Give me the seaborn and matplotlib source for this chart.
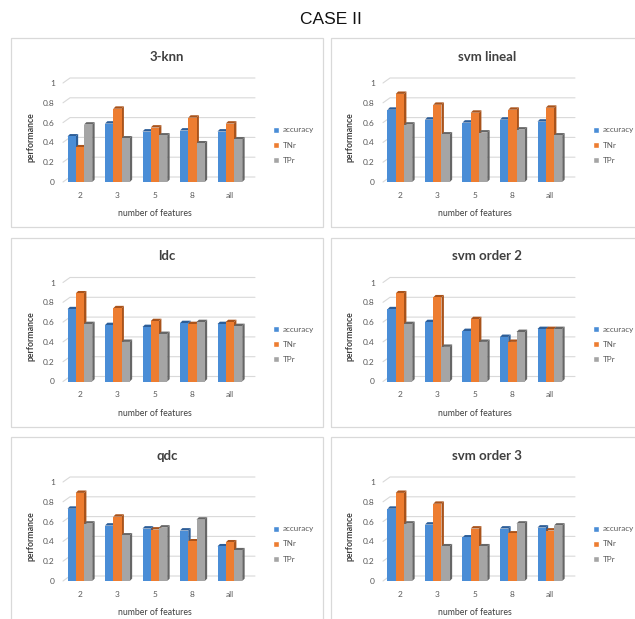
import numpy as np
import pandas as pd
import matplotlib
matplotlib.use("Agg")
import matplotlib.pyplot as plt
from matplotlib.patches import Rectangle, Polygon
import seaborn as sns

# ---- data -------------------------------------------------------------
features = ["2", "3", "5", "8", "all"]
metrics = ["accuracy", "TNr", "TPr"]
classifiers = ["3-knn", "svm lineal", "ldc", "svm order 2", "qdc", "svm order 3"]

knn_accuracy = [0.46, 0.59, 0.51, 0.52, 0.51]
knn_tnr = [0.35, 0.74, 0.55, 0.65, 0.59]
knn_tpr = [0.58, 0.44, 0.47, 0.39, 0.43]

svml_accuracy = [0.73, 0.63, 0.60, 0.63, 0.61]
svml_tnr = [0.89, 0.78, 0.70, 0.73, 0.75]
svml_tpr = [0.58, 0.48, 0.50, 0.53, 0.47]

ldc_accuracy = [0.73, 0.57, 0.55, 0.59, 0.58]
ldc_tnr = [0.89, 0.74, 0.61, 0.58, 0.60]
ldc_tpr = [0.58, 0.40, 0.48, 0.60, 0.56]

svm2_accuracy = [0.73, 0.60, 0.51, 0.45, 0.53]
svm2_tnr = [0.89, 0.85, 0.63, 0.40, 0.53]
svm2_tpr = [0.58, 0.35, 0.40, 0.50, 0.53]

qdc_accuracy = [0.73, 0.56, 0.53, 0.51, 0.35]
qdc_tnr = [0.89, 0.65, 0.52, 0.40, 0.39]
qdc_tpr = [0.58, 0.46, 0.54, 0.62, 0.31]

svm3_accuracy = [0.73, 0.57, 0.44, 0.53, 0.54]
svm3_tnr = [0.89, 0.78, 0.53, 0.48, 0.51]
svm3_tpr = [0.58, 0.35, 0.35, 0.58, 0.56]

y_ticks = [0, 0.2, 0.4, 0.6, 0.8, 1]
y_tick_labels = ["0", "0.2", "0.4", "0.6", "0.8", "1"]

results = {
    "3-knn": (knn_accuracy, knn_tnr, knn_tpr),
    "svm lineal": (svml_accuracy, svml_tnr, svml_tpr),
    "ldc": (ldc_accuracy, ldc_tnr, ldc_tpr),
    "svm order 2": (svm2_accuracy, svm2_tnr, svm2_tpr),
    "qdc": (qdc_accuracy, qdc_tnr, qdc_tpr),
    "svm order 3": (svm3_accuracy, svm3_tnr, svm3_tpr),
}

rows = []
for clf, series in results.items():
    for metric, vals in zip(metrics, series):
        for feat, v in zip(features, vals):
            rows.append({"classifier": clf, "metric": metric,
                         "features": feat, "value": v})
df = pd.DataFrame(rows)

# ---- style ------------------------------------------------------------
sns.set_theme(style="white")
plt.rcParams["font.family"] = ["Lato", "DejaVu Sans"]

front = {"accuracy": "#4A8DD6", "TNr": "#ED7D31", "TPr": "#A5A5A5"}
side = {"accuracy": "#2D5E98", "TNr": "#A9531B", "TPr": "#666666"}
text_dark = "#404040"
text_mid = "#595959"
grid_col = "#D9D9D9"

W, H = 635, 619
fig = plt.figure(figsize=(W / 100, H / 100), dpi=100)
fig.patch.set_facecolor("white")

fig.text(331 / W, 1 - 20 / H, "CASE II", ha="center", va="center",
         fontsize=12.5, color="#111111", family=["Liberation Sans", "DejaVu Sans"])

XL = (-0.45, 4.67)
ax_w, ax_h = 192.0, 99.0


def px2fig(x, y):
    return x / W, 1 - y / H


for i, clf in enumerate(classifiers):
    col, row = i % 2, i // 2
    ox = 320 * col
    oy = 199.5 * row

    # panel frame
    fx, fy = px2fig(11 + ox, 227 + oy)
    fig.patches.append(Rectangle((fx, fy), 312 / W, 189 / H,
                                 transform=fig.transFigure, facecolor="none",
                                 edgecolor=grid_col, lw=0.9, zorder=-10))

    ax = fig.add_axes([(63 + ox) / W, 1 - (182 + oy) / H, ax_w / W, ax_h / H])
    ax.patch.set_alpha(0)
    sub = df[df["classifier"] == clf]
    sns.barplot(data=sub, x="features", y="value", hue="metric",
                order=features, hue_order=metrics, palette=front,
                saturation=1, width=0.66, ax=ax, legend=True)
    ax.set_xlim(*XL)
    ax.set_ylim(0, 1)

    # depth offsets converted to data units
    xr = XL[1] - XL[0]
    bdx, bdy = 2.4 * xr / ax_w, 2.4 / ax_h
    gdx, gdy = 7.0 * xr / ax_w, 5.0 / ax_h

    # back-wall gridlines with a short receding segment at the left
    for v in y_ticks:
        ax.plot([XL[0], XL[0] + gdx, XL[1]], [v, v + gdy, v + gdy],
                color=grid_col, lw=0.8, clip_on=False, zorder=0.5)

    # 3-D side and top faces on every bar
    bars = [p for p in ax.patches if isinstance(p, Rectangle)][:15]
    for k, p in enumerate(bars):
        m = metrics[k // len(features)]
        x, w, h = p.get_x(), p.get_width(), p.get_height()
        p.set_zorder(3 + 2 * (k // len(features)))
        p.set_edgecolor("none")
        zs = 2 + 2 * (k // len(features))
        ax.add_patch(Polygon([(x + w, 0), (x + w, h), (x + w + bdx, h + bdy),
                              (x + w + bdx, bdy)], closed=True,
                             facecolor=side[m], edgecolor="none",
                             zorder=zs, clip_on=False))
        ax.add_patch(Polygon([(x, h), (x + w, h), (x + w + bdx, h + bdy),
                              (x + bdx, h + bdy)], closed=True,
                             facecolor=side[m], edgecolor="none",
                             zorder=zs, clip_on=False))

    sns.despine(ax=ax, left=True, bottom=True)
    ax.set_yticks(y_ticks)
    ax.set_yticklabels(y_tick_labels)
    ax.tick_params(axis="y", length=0, pad=6, labelsize=6, colors=text_mid)
    ax.tick_params(axis="x", length=0, pad=7, labelsize=6, colors=text_mid)
    ax.grid(False)

    ax.set_xlabel("number of features", fontsize=6.3, color=text_dark)
    ax.xaxis.set_label_coords((155 - 63) / ax_w, (182 - 209) / ax_h)
    ax.set_ylabel("performance", fontsize=6.3, color=text_dark,
                  fontweight="bold")
    ax.yaxis.set_label_coords((35 - 63) / ax_w, (182 - 137) / ax_h)

    tx, ty = px2fig(167 + ox, 57 + oy)
    fig.text(tx, ty, clf, ha="center", va="center", fontsize=9.5,
             fontweight="bold", color=text_dark)

    sns.move_legend(ax, "center left",
                    bbox_to_anchor=((273 - 63) / ax_w, (182 - 145) / ax_h),
                    title=None, frameon=False, fontsize=5.8,
                    handlelength=0.75, handleheight=0.75, handletextpad=0.45,
                    labelspacing=1.0, borderaxespad=0, borderpad=0)
    for t in ax.get_legend().get_texts():
        t.set_color(text_mid)

fig.savefig("out.png", dpi=100, facecolor="white")
